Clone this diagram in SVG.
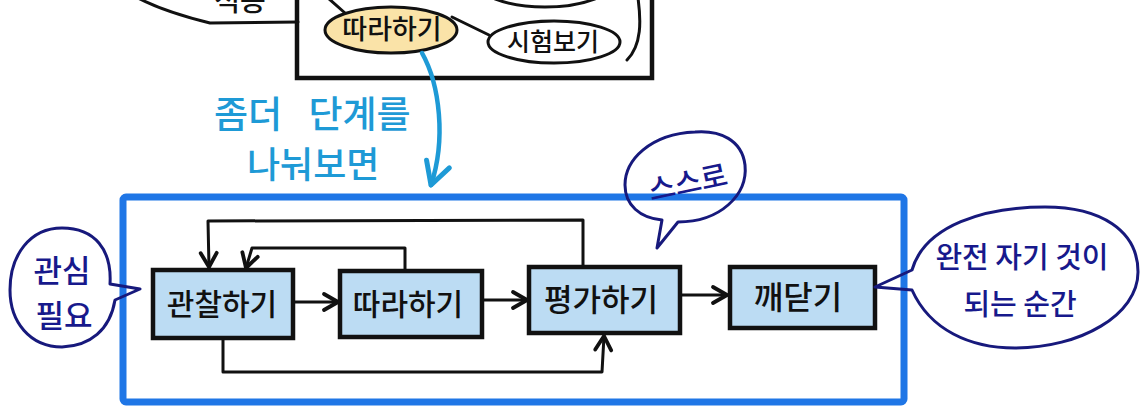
<svg xmlns="http://www.w3.org/2000/svg" width="1140" height="416" viewBox="0 0 1140 416">
<defs>
<style>
.k{fill:none;stroke:#111;stroke-width:3;stroke-linecap:round;stroke-linejoin:round}
.box{fill:#bcdcf3;stroke:#111;stroke-width:4.5}
.t{font-family:"Noto Sans CJK KR","Noto Sans CJK SC",sans-serif;font-weight:500;fill:#111;text-anchor:middle}
.nv{fill:none;stroke:#17197c;stroke-width:3;stroke-linejoin:round}
.nt{font-family:"Noto Sans CJK KR","Noto Sans CJK SC",sans-serif;font-weight:500;fill:#17198c;text-anchor:middle}
.cy{font-family:"Noto Sans CJK KR","Noto Sans CJK SC",sans-serif;font-weight:500;fill:#1e9ad6}
</style>
<marker id="ah" markerUnits="userSpaceOnUse" markerWidth="22" markerHeight="22" viewBox="0 0 22 22" refX="18" refY="11" orient="auto">
<path d="M4,3 L18,11 L4,19" fill="none" stroke="#111" stroke-width="3.8" stroke-linecap="round" stroke-linejoin="round"/>
</marker>
<marker id="ahc" markerUnits="userSpaceOnUse" markerWidth="30" markerHeight="30" viewBox="0 0 30 30" refX="26" refY="15" orient="auto">
<path d="M4,3 L26,15 L4,27" fill="none" stroke="#1e9ad6" stroke-width="5" stroke-linecap="round" stroke-linejoin="round"/>
</marker>
</defs>
<rect width="1140" height="416" fill="#fff"/>

<g id="top-section">
<path class="k" d="M138 -2 Q165 12 210 23 L298 22" stroke-width="4"/>
<text class="t" x="240" y="11" font-size="28">적응</text>
<rect x="297" y="-10" width="355" height="88" fill="none" stroke="#111" stroke-width="4.5"/>
<ellipse cx="545" cy="-20" rx="70" ry="27" fill="none" stroke="#111" stroke-width="3"/>
<path class="k" d="M638 -2 C641 20 642 45 627 60"/>
<path class="k" d="M345 13 L328 -2"/>
<path class="k" d="M452 17 L489 35"/>
</g>

<g id="node-follow-top">
<ellipse cx="391" cy="30" rx="66" ry="23" fill="#fae3a8" stroke="#111" stroke-width="3"/>
<text class="t" x="392" y="39" font-size="27">따라하기</text>
</g>
<g id="node-test">
<ellipse cx="554" cy="42" rx="66" ry="21" fill="#fff" stroke="#111" stroke-width="3"/>
<text class="t" x="553" y="51" font-size="25">시험보기</text>
</g>

<g id="label-split">
<path d="M422 53 C440 85 446 140 431 185" fill="none" stroke="#1e9ad6" stroke-width="4.5" stroke-linecap="round" marker-end="url(#ahc)"/>
<text class="cy" font-size="37"><tspan x="214" y="128" word-spacing="18">좀더 단계를</tspan><tspan x="247" y="178" font-size="36">나눠보면</tspan></text>
</g>

<g id="frame">
<rect x="123" y="197" width="781" height="205" rx="3" fill="none" stroke="#1f76e6" stroke-width="7"/>
</g>

<g id="connectors">
<path class="k" d="M293 302 L338 302" marker-end="url(#ah)"/>
<path class="k" d="M482 300 L527 300" marker-end="url(#ah)"/>
<path class="k" d="M680 295 L727 295" stroke-width="5" marker-end="url(#ah)"/>
<path class="k" d="M583 267 L583 220 L208 221 L209 267" marker-end="url(#ah)"/>
<path class="k" d="M405 271 L405 248 L252 248 L246 268" marker-end="url(#ah)"/>
<path class="k" d="M223 338 L223 372 L602 372 L604 336" marker-end="url(#ah)"/>
</g>

<g id="node-observe">
<rect class="box" x="153" y="270" width="140" height="68"/>
<text class="t" x="222" y="315" font-size="30">관찰하기</text>
</g>
<g id="node-follow">
<rect class="box" x="340" y="271" width="142" height="66"/>
<text class="t" x="408" y="315" font-size="30">따라하기</text>
</g>
<g id="node-evaluate">
<rect class="box" x="529" y="267" width="151" height="66"/>
<text class="t" x="601" y="311" font-size="31">평가하기</text>
</g>
<g id="node-realize">
<rect class="box" x="730" y="267" width="145" height="61"/>
<text class="t" x="798" y="309" font-size="32">깨닫기</text>
</g>

<g id="bubble-interest">
<path class="nv" d="M110 284 L140 289 L115 300 C110 330 90 346 62 347 C30 347 10 322 10 290 C10 255 30 228 62 228 C95 228 112 250 110 284 Z"/>
<text class="nt" x="62" y="282" font-size="31">관심</text>
<text class="nt" x="64" y="327" font-size="31">필요</text>
</g>
<g id="bubble-self">
<path class="nv" d="M662 220 L657 248 L678 222 C720 222 748 195 745 165 C742 140 720 130 695 132 C650 134 625 160 625 185 C625 205 640 218 662 220 Z"/>
<text class="nt" x="688" y="193" font-size="29" transform="rotate(-12 688 183)">스스로</text>
</g>
<g id="bubble-own">
<path class="nv" d="M912 270 L875 287 L912 290 C930 330 970 348 1015 348 C1080 348 1138 315 1138 272 C1138 230 1100 207 1045 207 C985 207 925 225 912 270 Z"/>
<text class="nt" x="1022" y="268" font-size="29">완전 자기 것이</text>
<text class="nt" x="1020" y="315" font-size="29">되는 순간</text>
</g>
</svg>
